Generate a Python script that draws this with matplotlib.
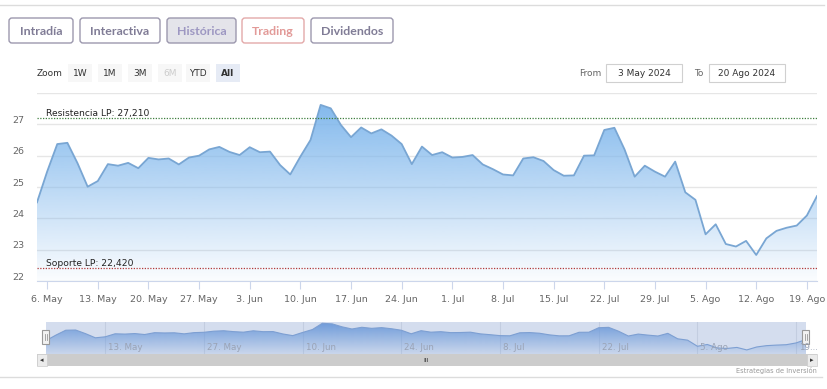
import numpy as np
import matplotlib
matplotlib.use("Agg")
import matplotlib.pyplot as plt
from matplotlib.patches import FancyBboxPatch, Rectangle
from matplotlib.transforms import ScaledTranslation

# trading-day index 0 = 3 May 2024 ... 77 = 20 Ago 2024
precio = [24.51, 25.49, 26.37, 26.41, 25.76, 25.01, 25.19, 25.73, 25.68, 25.77,
          25.60, 25.93, 25.88, 25.91, 25.72, 25.94, 26.00, 26.20, 26.28, 26.12,
          26.02, 26.27, 26.11, 26.13, 25.70, 25.40, 25.97, 26.50, 27.62, 27.51,
          26.98, 26.59, 26.90, 26.71, 26.84, 26.64, 26.37, 25.73, 26.29, 26.02,
          26.11, 25.94, 25.96, 26.02, 25.72, 25.57, 25.40, 25.37, 25.91, 25.95,
          25.83, 25.54, 25.36, 25.37, 26.00, 26.01, 26.82, 26.89, 26.20, 25.33,
          25.68, 25.49, 25.33, 25.81, 24.83, 24.59, 23.49, 23.81, 23.18, 23.10,
          23.28, 22.83, 23.36, 23.60, 23.70, 23.77, 24.09, 24.71]

tick_pos = [1, 6, 11, 16, 21, 26, 31, 36, 41, 46, 51, 56, 61, 66, 71, 76]
tick_lab = ["6. May", "13. May", "20. May", "27. May", "3. Jun", "10. Jun", "17. Jun",
            "24. Jun", "1. Jul", "8. Jul", "15. Jul", "22. Jul", "29. Jul", "5. Ago",
            "12. Ago", "19. Ago"]
nav_pos = [6, 16, 26, 36, 46, 56, 66, 76]
nav_lab = ["13. May", "27. May", "10. Jun", "24. Jun", "8. Jul", "22. Jul", "5. Ago", "19..."]

resistencia = 27.21
soporte = 22.42
y_ticks = [22, 23, 24, 25, 26, 27, 28]

botones = ["Intradía", "Interactiva", "Histórica", "Trading", "Dividendos"]
zoom_btn = ["1W", "1M", "3M", "6M", "YTD", "All"]

W, H = 828, 389
fig = plt.figure(figsize=(W / 100, H / 100), dpi=100)
fig.patch.set_facecolor("white")

def fax(x0, y0, x1, y1, **kw):
    return fig.add_axes([x0 / W, 1 - y1 / H, (x1 - x0) / W, (y1 - y0) / H], **kw)

def pixel_axes(z):
    a = fig.add_axes([0, 0, 1, 1], zorder=z)
    a.set_xlim(0, W)
    a.set_ylim(H, 0)
    a.axis("off")
    a.patch.set_alpha(0)
    return a

# ---- page decoration (pixel coords) ----
ui = pixel_axes(-5)
ui.plot([0, 824], [5, 5], color="#dcdcdc", lw=1)
ui.plot([0, 822], [377, 377], color="#dcdcdc", lw=1)

bx = [(9, 73), (80, 160), (167, 236), (242, 304), (311, 393)]
for (a, b), t in zip(bx, botones):
    ec, fc, tc = "#9c98ae", "white", "#807c96"
    if t == "Histórica":
        fc, tc = "#e4e4ea", "#9d97c2"
    if t == "Trading":
        ec, tc = "#e3a9a9", "#e29a98"
    ui.add_patch(FancyBboxPatch((a, 18), b - a, 25, boxstyle="round,pad=0,rounding_size=3",
                                ec=ec, fc=fc, lw=1))
    ui.text((a + b) / 2, 31, t, ha="center", va="center", fontsize=8.9,
            color=tc, family="Lato", fontweight="bold")

ui.text(37, 73, "Zoom", ha="left", va="center", fontsize=6.5, color="#333333")
zx = [68, 98, 128, 158, 186, 216]
for x0, t in zip(zx, zoom_btn):
    fc = "#e6ebf5" if t == "All" else "#f7f7f7"
    tc = "#cccccc" if t == "6M" else "#333333"
    ui.add_patch(Rectangle((x0, 64), 24, 18, fc=fc, ec="none"))
    ui.text(x0 + 12, 73, t, ha="center", va="center", fontsize=6.5, color=tc,
            fontweight="bold" if t == "All" else "normal")

ui.text(601, 73, "From", ha="right", va="center", fontsize=6.5, color="#666666")
ui.add_patch(Rectangle((606, 64), 76, 18, fc="white", ec="#d0d0d0", lw=0.8))
ui.text(644, 73, "3 May 2024", ha="center", va="center", fontsize=6.5, color="#333333")
ui.text(703, 73, "To", ha="right", va="center", fontsize=6.5, color="#666666")
ui.add_patch(Rectangle((709, 64), 76, 18, fc="white", ec="#d0d0d0", lw=0.8))
ui.text(747, 73, "20 Ago 2024", ha="center", va="center", fontsize=6.5, color="#333333")

# ---- main chart ----
idx = np.arange(len(precio))
ax = fax(37, 93, 817, 281)
ax.set_xlim(0, len(precio) - 1)
ax.set_ylim(22, 28)

rgba = np.zeros((256, 1, 4))
rgba[..., 0] = 124 / 255
rgba[..., 1] = 181 / 255
rgba[..., 2] = 236 / 255
rgba[..., 3] = np.linspace(1.0, 0.03, 256).reshape(-1, 1)
poly = ax.fill_between(idx, precio, 22, color="none", lw=0)
im = ax.imshow(rgba, extent=[0, len(precio) - 1, 22, 28], aspect="auto", origin="upper", zorder=1)
im.set_clip_path(poly.get_paths()[0], transform=ax.transData)
ax.plot(idx, precio, color="#79a6d3", lw=1.3, zorder=3)

ax.axhline(resistencia, color="#3f7f3f", lw=0.9, ls=(0, (1, 1.2)), zorder=4)
ax.axhline(soporte, color="#b23a3a", lw=0.9, ls=(0, (1, 1.2)), zorder=4)
ax.text(9 / 780, resistencia, "Resistencia LP: 27,210", transform=ax.get_yaxis_transform(),
        fontsize=6.6, color="#222222", va="bottom", ha="left")
ax.text(9 / 780, soporte, "Soporte LP: 22,420", transform=ax.get_yaxis_transform(),
        fontsize=6.6, color="#222222", va="bottom", ha="left")

ax.set_yticks(y_ticks)
ax.set_yticklabels([str(v) for v in y_ticks[:-1]] + [""])
ax.grid(axis="y", color="#e6e6e6", lw=1)
ax.set_axisbelow(True)
ax.tick_params(axis="y", length=0, pad=9.4, labelsize=6.8, labelcolor="#666666")
for lab in ax.get_yticklabels():
    lab.set_transform(lab.get_transform() + ScaledTranslation(0, 5 / 100, fig.dpi_scale_trans))

ax.set_xticks(tick_pos)
ax.set_xticklabels(tick_lab)
ax.tick_params(axis="x", length=6, color="#ccd6eb", pad=4, labelsize=6.8, labelcolor="#666666")
for s in ["top", "right", "left"]:
    ax.spines[s].set_visible(False)
ax.spines["bottom"].set_color("#ccd6eb")
ax.patch.set_alpha(0)

# ---- navigator ----
nav = fax(46, 322, 806, 354)
nav.set_xlim(0, len(precio) - 1)
nav.set_ylim(22.1, 27.85)
nav.set_facecolor("#d4ddee")
nrgba = np.zeros((256, 1, 4))
nrgba[..., 0] = 110 / 255
nrgba[..., 1] = 155 / 255
nrgba[..., 2] = 218 / 255
nrgba[..., 3] = np.linspace(1.0, 0.1, 256).reshape(-1, 1)
npoly = nav.fill_between(idx, precio, 22.1, color="none", lw=0)
nim = nav.imshow(nrgba, extent=[0, len(precio) - 1, 22.1, 27.85], aspect="auto", origin="upper", zorder=1)
nim.set_clip_path(npoly.get_paths()[0], transform=nav.transData)
nav.plot(idx, precio, color="#7d9fd2", lw=0.8, zorder=2)
for p in nav_pos:
    nav.axvline(p, color="#c3cde0", lw=0.8, zorder=0.5)
nav.set_xticks([])
nav.set_yticks([])
for s in nav.spines.values():
    s.set_visible(False)

# top overlay: navigator labels, handles, scrollbar
top = pixel_axes(10)
for p, t in zip(nav_pos, nav_lab):
    px = 46 + p * 760 / (len(precio) - 1)
    top.text(px + 3, 348, t, fontsize=6.3, color="#9aa3b5", ha="left", va="center")
for hx in [46, 806]:
    top.add_patch(Rectangle((hx - 3.5, 330), 7, 14, fc="#f2f2f2", ec="#999999", lw=0.8))
    top.plot([hx - 0.8, hx - 0.8], [334, 340], color="#999999", lw=0.6)
    top.plot([hx + 0.8, hx + 0.8], [334, 340], color="#999999", lw=0.6)

top.add_patch(Rectangle((37, 354), 780, 12, fc="#cccccc", ec="none"))
top.add_patch(Rectangle((37, 354), 10, 12, fc="#ebebeb", ec="#cccccc", lw=0.5))
top.add_patch(Rectangle((807, 354), 10, 12, fc="#ebebeb", ec="#cccccc", lw=0.5))
top.text(42, 360, "◂", ha="center", va="center", fontsize=5, color="#333333")
top.text(812, 360, "▸", ha="center", va="center", fontsize=5, color="#333333")
top.text(426, 360, "III", ha="center", va="center", fontsize=4.5, color="#333333")
top.text(817, 370, "Estrategias de Inversión", ha="right", va="center", fontsize=4.8, color="#999999")

fig.savefig("out.png", dpi=100)
